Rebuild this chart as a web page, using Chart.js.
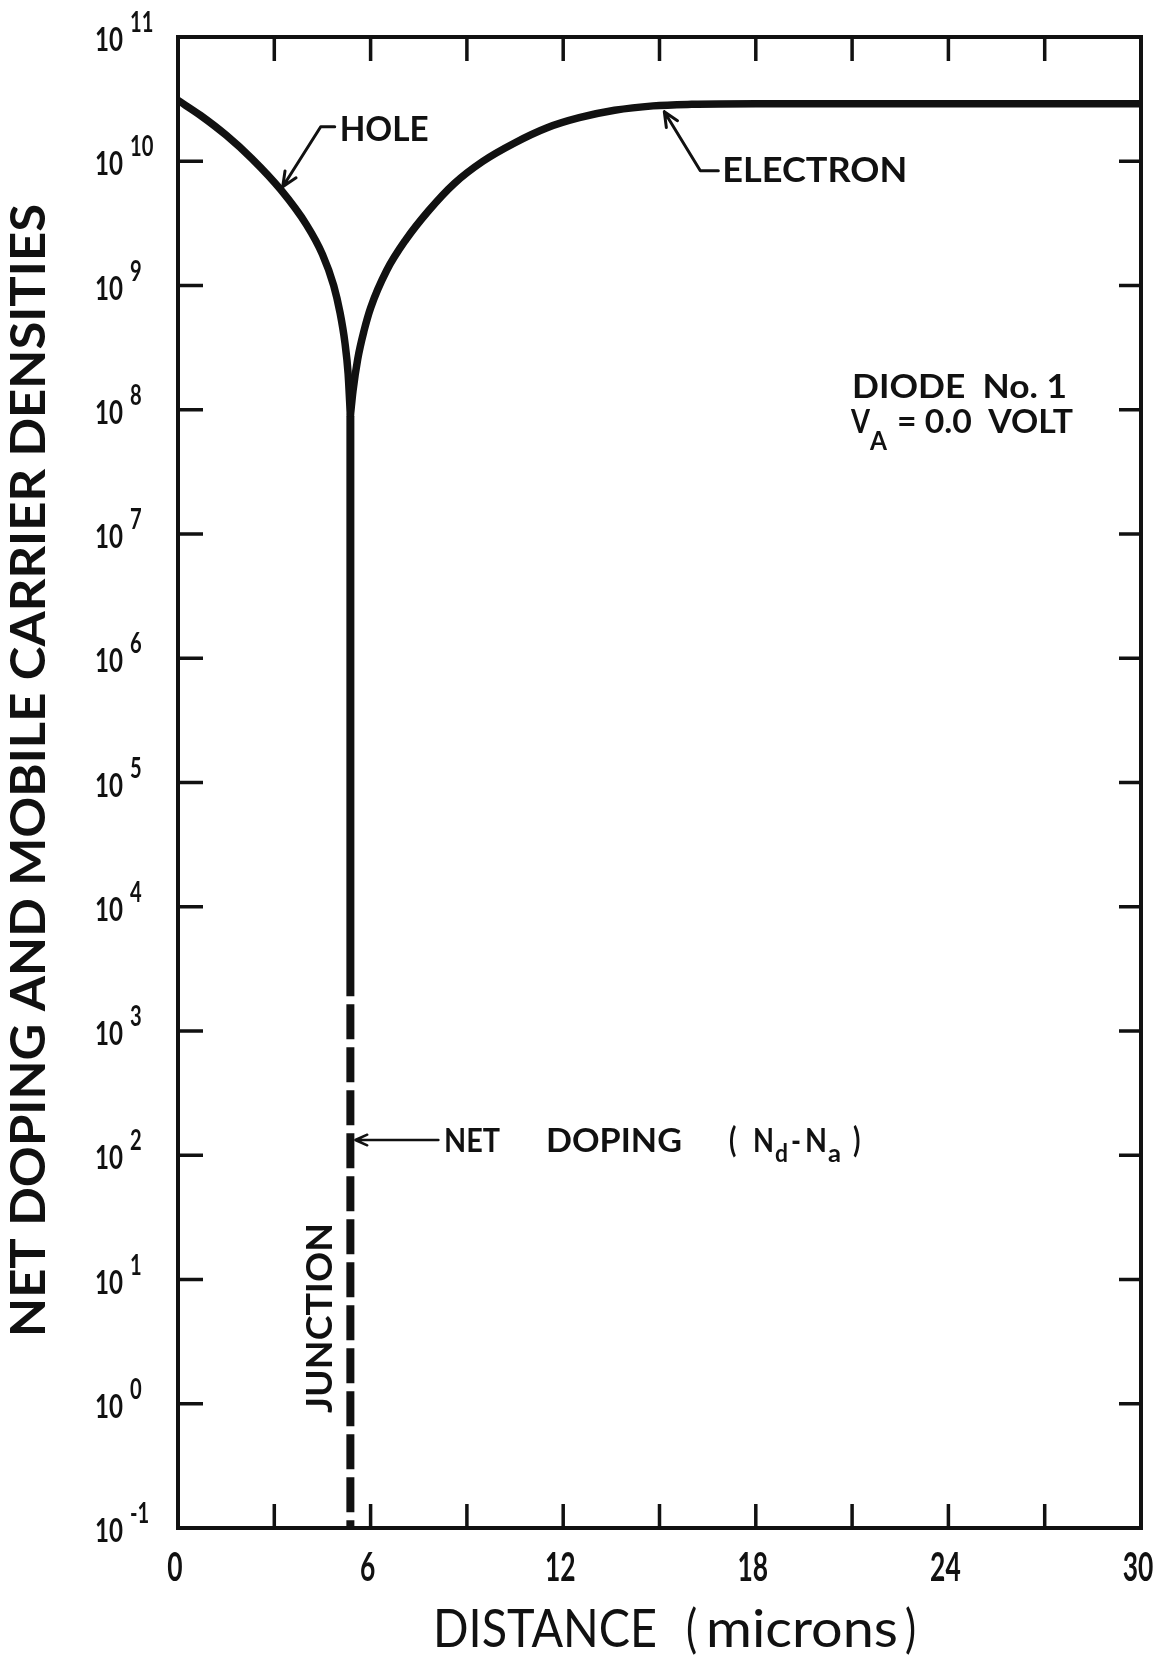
<!DOCTYPE html>
<html>
<head>
<meta charset="utf-8">
<title>Diode No. 1 carrier densities</title>
<script src="https://cdn.jsdelivr.net/npm/chart.js@4.4.1/dist/chart.umd.min.js"></script>
<style>
  html, body { margin: 0; padding: 0; background: #fff; }
  canvas { display: block; }
</style>
</head>
<body>
<canvas id="densitychart" width="1168" height="1658"></canvas>
<script>
// distance in microns
const holeX = [0, 0.7, 1.5, 2.3, 3.2, 4.0, 4.5, 4.85, 5.05, 5.2, 5.3, 5.37];
const holeDensity = [3.09e10, 2.34e10, 1.62e10, 1.05e10, 5.9e9, 3.09e9, 1.78e9, 1.0e9, 6.0e8, 3.47e8, 1.95e8, 8.9e7];

const electronX = [5.37, 5.45, 5.6, 5.8, 6.0, 6.5, 7.1, 7.8, 8.6, 9.5, 10.5, 11.5, 12.5, 13.6, 14.8, 16, 18, 30];
const electronDensity = [8.9e7, 1.41e8, 2.57e8, 4.37e8, 6.6e8, 1.32e9, 2.34e9, 3.98e9, 6.6e9, 1.0e10, 1.41e10, 1.86e10, 2.24e10, 2.57e10, 2.79e10, 2.87e10, 2.9e10, 2.9e10];

// metallurgical junction: carriers fall straight down, net doping below
const junctionX = 5.37;
const junctionCarriers = [8.9e7, 1.9e3];
const netDoping = [1.9e3, 1e-1];

const xTicks = [0, 3, 6, 9, 12, 15, 18, 21, 24, 27, 30];
const xLabels = ['0', '6', '12', '18', '24', '30'];
const yTicks = [1e-1, 1e0, 1e1, 1e2, 1e3, 1e4, 1e5, 1e6, 1e7, 1e8, 1e9, 1e10, 1e11];
const yExponents = ['-1', '0', '1', '2', '3', '4', '5', '6', '7', '8', '9', '10', '11'];

const ink = '#111';
const FONT = 'Lato, "Noto Sans", "DejaVu Sans", sans-serif';

const pts = (xs, ys) => xs.map((x, i) => ({ x: x, y: ys[i] }));

// text squeezed or stretched horizontally to a given width (or factor)
function label(ctx, str, x, y, o) {
  ctx.save();
  ctx.font = (o.weight || 'bold') + ' ' + o.size + 'px ' + FONT;
  ctx.textAlign = o.align || 'left';
  ctx.textBaseline = 'alphabetic';
  const sx = o.width ? o.width / ctx.measureText(str).width : (o.sx || 1);
  ctx.translate(x, y);
  if (o.rotate) ctx.rotate(o.rotate);
  ctx.scale(sx, 1);
  ctx.fillStyle = ink;
  ctx.fillText(str, 0, 0);
  ctx.restore();
}

// polyline ending in an open arrow head at the last point
function arrow(ctx, path, head, lw) {
  ctx.save();
  ctx.strokeStyle = ink;
  ctx.lineWidth = lw;
  ctx.lineCap = 'round';
  ctx.lineJoin = 'round';
  ctx.beginPath();
  ctx.moveTo(path[0][0], path[0][1]);
  for (let i = 1; i < path.length; i++) ctx.lineTo(path[i][0], path[i][1]);
  const [tx, ty] = path[path.length - 1];
  const [fx, fy] = path[path.length - 2];
  const ang = Math.atan2(ty - fy, tx - fx);
  const spread = 0.42;
  ctx.moveTo(tx - head * Math.cos(ang - spread), ty - head * Math.sin(ang - spread));
  ctx.lineTo(tx, ty);
  ctx.lineTo(tx - head * Math.cos(ang + spread), ty - head * Math.sin(ang + spread));
  ctx.stroke();
  ctx.restore();
}

const framePlugin = {
  id: 'frame',
  afterDraw(chart) {
    const { ctx, chartArea: a, scales: { x, y } } = chart;
    ctx.save();
    ctx.strokeStyle = ink;
    ctx.lineWidth = 4;
    ctx.strokeRect(a.left, a.top, a.right - a.left, a.bottom - a.top);

    // inward tick marks on all four sides
    ctx.lineWidth = 3.5;
    ctx.beginPath();
    x.ticks.forEach(t => {
      const px = x.getPixelForValue(t.value);
      if (px < a.left + 2 || px > a.right - 2) return;
      ctx.moveTo(px, a.bottom); ctx.lineTo(px, a.bottom - 24);
      ctx.moveTo(px, a.top); ctx.lineTo(px, a.top + 24);
    });
    y.ticks.forEach(t => {
      const py = y.getPixelForValue(t.value);
      if (py < a.top + 2 || py > a.bottom - 2) return;
      ctx.moveTo(a.left, py); ctx.lineTo(a.left + 25, py);
      ctx.moveTo(a.right, py); ctx.lineTo(a.right - 22, py);
    });
    ctx.stroke();
    ctx.restore();

    // tick labels
    x.ticks.forEach(t => {
      const s = String(t.value);
      if (!xLabels.includes(s)) return;
      label(ctx, s, x.getPixelForValue(t.value) - 3, a.bottom + 53, { size: 40, sx: 0.66, align: 'center' });
    });
    y.ticks.forEach((t, i) => {
      const py = y.getPixelForValue(t.value);
      label(ctx, '10', 95, py + 14, { size: 33, width: 28 });
      label(ctx, yExponents[i], 130, py - 5, { size: 28, sx: 0.72 });
    });

    // axis titles
    label(ctx, 'NET DOPING AND MOBILE CARRIER DENSITIES', 45, 1337, { size: 48, width: 1133, rotate: -Math.PI / 2 });
    label(ctx, 'DISTANCE', 433, 1647, { size: 52, width: 224, weight: 'normal' });
    label(ctx, '(', 686, 1647, { size: 52, sx: 0.8, weight: 'normal' });
    label(ctx, 'microns', 706, 1647, { size: 52, width: 192, weight: 'normal' });
    label(ctx, ')', 905, 1647, { size: 52, sx: 0.8, weight: 'normal' });

    // curve call-outs
    const hx = x.getPixelForValue(3.2) + 2, hy = y.getPixelForValue(5.9e9) - 3;
    arrow(ctx, [[hx + 52, hy - 60], [hx + 38, hy - 60], [hx, hy]], 16, 3);
    label(ctx, 'HOLE', hx + 57, hy - 46, { size: 35, width: 89 });

    const ex = x.getPixelForValue(15.15), ey = y.getPixelForValue(2.8e10) + 6;
    arrow(ctx, [[ex + 54, ey + 59], [ex + 36, ey + 59], [ex, ey]], 16, 3);
    label(ctx, 'ELECTRON', ex + 58, ey + 70, { size: 35, width: 185 });

    const jx = x.getPixelForValue(junctionX);
    const ny = 1140;
    arrow(ctx, [[jx + 88, ny], [jx + 5, ny]], 13, 2.5);
    label(ctx, 'NET', 444, ny + 12, { size: 32, width: 56 });
    label(ctx, 'DOPING', 546, ny + 12, { size: 32, width: 136 });
    label(ctx, '(', 729, ny + 12, { size: 34, sx: 0.8 });
    label(ctx, 'N', 753, ny + 12, { size: 32, width: 21 });
    label(ctx, 'd', 775, ny + 22, { size: 24, width: 13 });
    label(ctx, '-', 791, ny + 12, { size: 32, width: 10 });
    label(ctx, 'N', 805, ny + 12, { size: 32, width: 22 });
    label(ctx, 'a', 828, ny + 22, { size: 24, width: 13 });
    label(ctx, ')', 853, ny + 12, { size: 34, sx: 0.8 });

    label(ctx, 'JUNCTION', jx - 18, 1413, { size: 37, width: 190, rotate: -Math.PI / 2 });

    label(ctx, 'DIODE  No. 1', 852, 398, { size: 32, width: 215 });
    label(ctx, 'V', 851, 433, { size: 32, width: 19 });
    label(ctx, 'A', 870, 450, { size: 26, width: 17 });
    label(ctx, '= 0.0  VOLT', 897, 433, { size: 32, width: 176 });
  }
};

const line = (data, extra) => Object.assign({
  data: data,
  borderColor: ink,
  backgroundColor: ink,
  borderWidth: 7.5,
  pointRadius: 0,
  fill: false
}, extra);

new Chart(document.getElementById('densitychart').getContext('2d'), {
  type: 'line',
  data: {
    datasets: [
      line(pts(holeX, holeDensity), { label: 'Hole', cubicInterpolationMode: 'monotone' }),
      line(pts(electronX, electronDensity), { label: 'Electron', cubicInterpolationMode: 'monotone' }),
      line(pts([junctionX, junctionX], junctionCarriers), { label: 'Junction', borderWidth: 8 }),
      line(pts([junctionX, junctionX], netDoping), {
        label: 'Net doping (Nd-Na)',
        borderWidth: 8,
        borderDash: [35, 8],
        borderDashOffset: 35,
        borderCapStyle: 'butt'
      })
    ]
  },
  options: {
    responsive: false,
    animation: false,
    devicePixelRatio: 1,
    layout: { padding: { left: 178, right: 27, top: 37, bottom: 130 } },
    plugins: {
      legend: { display: false },
      tooltip: { enabled: false }
    },
    scales: {
      x: {
        type: 'linear',
        min: 0,
        max: 30,
        display: false,
        afterBuildTicks: s => { s.ticks = xTicks.map(v => ({ value: v })); }
      },
      y: {
        type: 'logarithmic',
        min: 1e-1,
        max: 1e11,
        display: false,
        afterBuildTicks: s => { s.ticks = yTicks.map(v => ({ value: v })); }
      }
    }
  },
  plugins: [framePlugin]
});
</script>
</body>
</html>
